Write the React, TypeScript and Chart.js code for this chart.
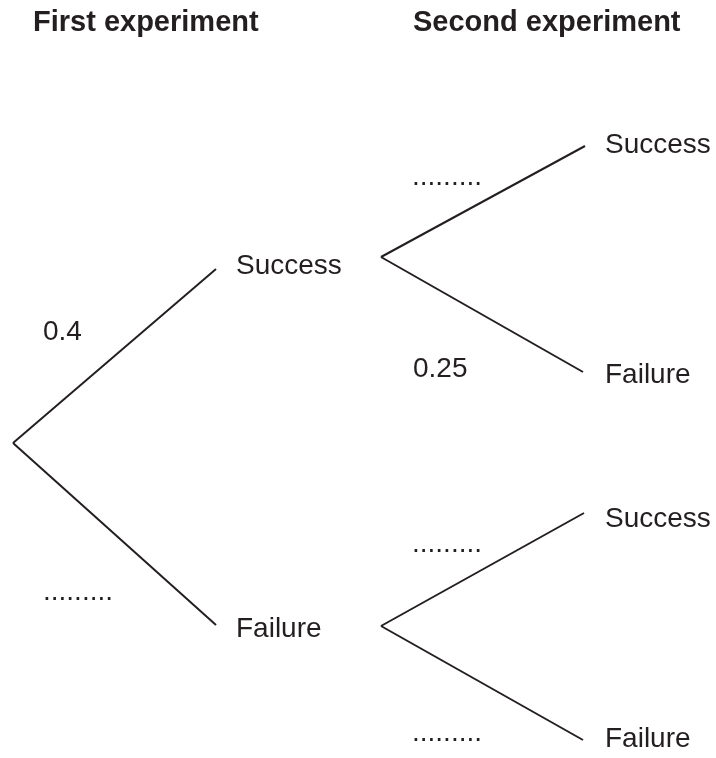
import React, { useEffect, useRef } from "react";
import { Chart, registerables } from "chart.js";

Chart.register(...registerables);

// Headings
const headings = ["First experiment", "Second experiment"];
const headingX = [33, 413];
const headingY = [31, 31];

// Branches of the tree (chart units)
const branchStartX = [13, 13, 381, 381, 381, 381];
const branchStartY = [443, 443, 257, 257, 626, 626];
const branchEndX = [216, 216, 585, 583, 584, 583];
const branchEndY = [269, 625, 146, 372, 513, 740];

// Probabilities written on branches
const branchProb = ["0.4", ".........", ".........", "0.25", ".........", "........."];
const probX = [43, 43, 412, 413, 412, 412];
const probY = [340, 600, 185, 377, 552, 741];

// Outcomes at branch ends
const outcomeLabels = ["Success", "Failure", "Success", "Failure", "Success", "Failure"];
const outcomeX = [236, 236, 605, 605, 605, 605];
const outcomeY = [274, 637, 153, 383, 527, 747];

const INK = "#231f20";
const FONT = '"Liberation Sans", Arial, Helvetica, sans-serif';

export default function App() {
  const ref = useRef<HTMLCanvasElement | null>(null);

  useEffect(() => {
    document.body.style.margin = "0";
    const canvas = ref.current;
    if (!canvas) return;

    const datasets = branchStartX.map((sx, i) => ({
      label: outcomeLabels[i],
      data: [
        { x: sx, y: branchStartY[i] },
        { x: branchEndX[i], y: branchEndY[i] },
      ],
      showLine: true,
      borderColor: INK,
      borderWidth: 2,
      pointRadius: 0,
      fill: false,
      tension: 0,
    }));

    const textPlugin = {
      id: "treeText",
      afterDatasetsDraw(chart: any) {
        const { ctx, scales } = chart;
        const xs = scales.x;
        const ys = scales.y;
        ctx.save();
        ctx.fillStyle = INK;
        ctx.textAlign = "left";
        ctx.textBaseline = "alphabetic";
        ctx.font = `bold 29px ${FONT}`;
        headings.forEach((t, i) => {
          ctx.fillText(t, xs.getPixelForValue(headingX[i]), ys.getPixelForValue(headingY[i]));
        });
        ctx.font = `28px ${FONT}`;
        branchProb.forEach((t, i) => {
          ctx.fillText(t, xs.getPixelForValue(probX[i]), ys.getPixelForValue(probY[i]));
        });
        outcomeLabels.forEach((t, i) => {
          ctx.fillText(t, xs.getPixelForValue(outcomeX[i]), ys.getPixelForValue(outcomeY[i]));
        });
        ctx.restore();
      },
    };

    const chart = new Chart(canvas, {
      type: "scatter",
      data: { datasets },
      options: {
        responsive: false,
        animation: false,
        devicePixelRatio: 1,
        layout: { padding: 0 },
        plugins: {
          legend: { display: false },
          tooltip: { enabled: false },
          title: { display: false },
        },
        scales: {
          x: { type: "linear", min: 0, max: 716, display: false },
          y: { type: "linear", min: 0, max: 758, reverse: true, display: false },
        },
        elements: { line: { borderCapStyle: "butt", borderJoinStyle: "miter" } },
      } as any,
      plugins: [textPlugin],
    });

    return () => chart.destroy();
  }, []);

  return (
    <div style={{ width: 716, height: 758, background: "#fff" }}>
      <canvas ref={ref} width={716} height={758} style={{ display: "block" }} />
    </div>
  );
}
